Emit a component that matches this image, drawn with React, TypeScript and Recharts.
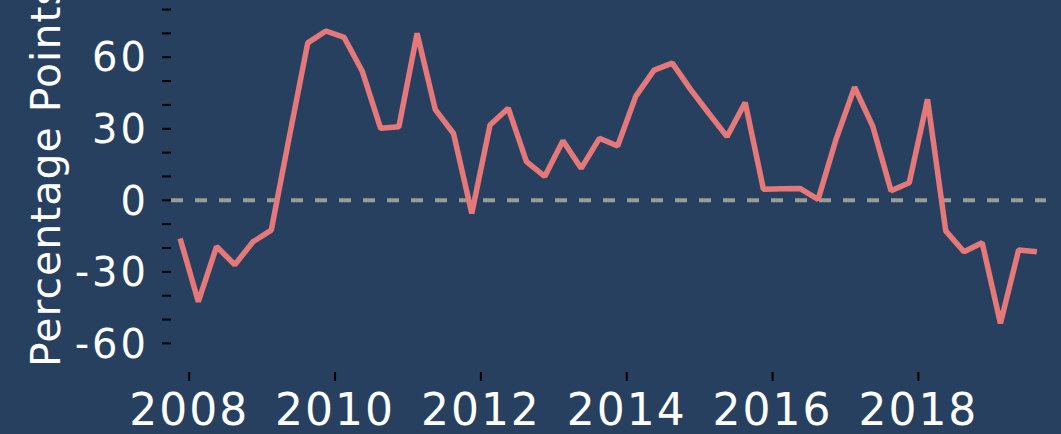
import React from 'react'
import { LineChart, Line, XAxis, YAxis, ReferenceLine } from 'recharts'

const quarters = [
  '2007Q4',
  '2008Q1', '2008Q2', '2008Q3', '2008Q4',
  '2009Q1', '2009Q2', '2009Q3', '2009Q4',
  '2010Q1', '2010Q2', '2010Q3', '2010Q4',
  '2011Q1', '2011Q2', '2011Q3', '2011Q4',
  '2012Q1', '2012Q2', '2012Q3', '2012Q4',
  '2013Q1', '2013Q2', '2013Q3', '2013Q4',
  '2014Q1', '2014Q2', '2014Q3', '2014Q4',
  '2015Q1', '2015Q2', '2015Q3', '2015Q4',
  '2016Q1', '2016Q2', '2016Q3', '2016Q4',
  '2017Q1', '2017Q2', '2017Q3', '2017Q4',
  '2018Q1', '2018Q2', '2018Q3', '2018Q4',
  '2019Q1', '2019Q2', '2019Q3',
]

const spread = [
  -16,
  -42.5, -19.4, -27, -17.4,
  -12.5, 27, 66, 71,
  68.3, 54, 30.2, 30.8,
  70, 38, 28, -5.5,
  31.6, 38.6, 16.2, 10,
  25, 13.4, 26, 22.8,
  43.7, 54.6, 57.5, 46.5,
  36.5, 26.7, 41, 4.6,
  4.8, 5, 0.4, 26,
  47.4, 31, 4, 7.4,
  42.3, -12.8, -21.6, -17.8,
  -51.6, -20.8, -21.6,
]

const yearTicks = [2008, 2010, 2012, 2014, 2016, 2018]
const valueTicks = [-60, -50, -40, -30, -20, -10, 0, 10, 20, 30, 40, 50, 60, 70, 80]

// quarter midpoint as a fractional year
const toYear = (q: string) => Number(q.slice(0, 4)) + (Number(q.slice(5)) - 0.5) / 4

const data = quarters.map((q, i) => ({ t: toYear(q), value: spread[i] }))

const BG = '#28405f'
const LINE = '#e57979'
const FONT = '"DejaVu Sans", sans-serif'

const YLabel = () => (
  <text
    x={60}
    y={367}
    transform="rotate(-90 60 367)"
    textAnchor="start"
    fill="#ffffff"
    fontSize={41}
    fontFamily={FONT}
    letterSpacing={1}
  >
    Percentage Points
  </text>
)

export default function App() {
  return (
    <div style={{ position: 'absolute', left: 0, top: 0, width: 1061, height: 434, background: BG, overflow: 'hidden' }}>
      <LineChart width={1061} height={434} data={data} margin={{ top: 0, right: 15, left: 0, bottom: 0 }}>
        <XAxis
          dataKey="t"
          type="number"
          domain={[2007.75, 2019.75]}
          ticks={yearTicks}
          allowDataOverflow
          height={62}
          axisLine={false}
          tickSize={9}
          tickMargin={13}
          tickLine={{ stroke: '#000000', strokeWidth: 2 }}
          tick={{ fill: '#ffffff', fontSize: 44, fontFamily: FONT, letterSpacing: 2 }}
        />
        <YAxis
          type="number"
          domain={[-72, 84]}
          ticks={valueTicks}
          allowDataOverflow
          width={171}
          axisLine={false}
          tickSize={9}
          tickMargin={13}
          interval={0}
          tickFormatter={(v: number) => (v % 30 === 0 ? String(v) : '')}
          tickLine={{ stroke: '#000000', strokeWidth: 2 }}
          tick={{ fill: '#ffffff', fontSize: 40, fontFamily: FONT, letterSpacing: 3 }}
          label={{ content: () => <YLabel /> }}
        />
        <ReferenceLine y={0} stroke="#9a9d93" strokeWidth={4} strokeDasharray="12 12" />
        <Line
          type="linear"
          dataKey="value"
          stroke={LINE}
          strokeWidth={5.5}
          strokeLinejoin="bevel"
          dot={false}
          isAnimationActive={false}
        />
      </LineChart>
    </div>
  )
}
